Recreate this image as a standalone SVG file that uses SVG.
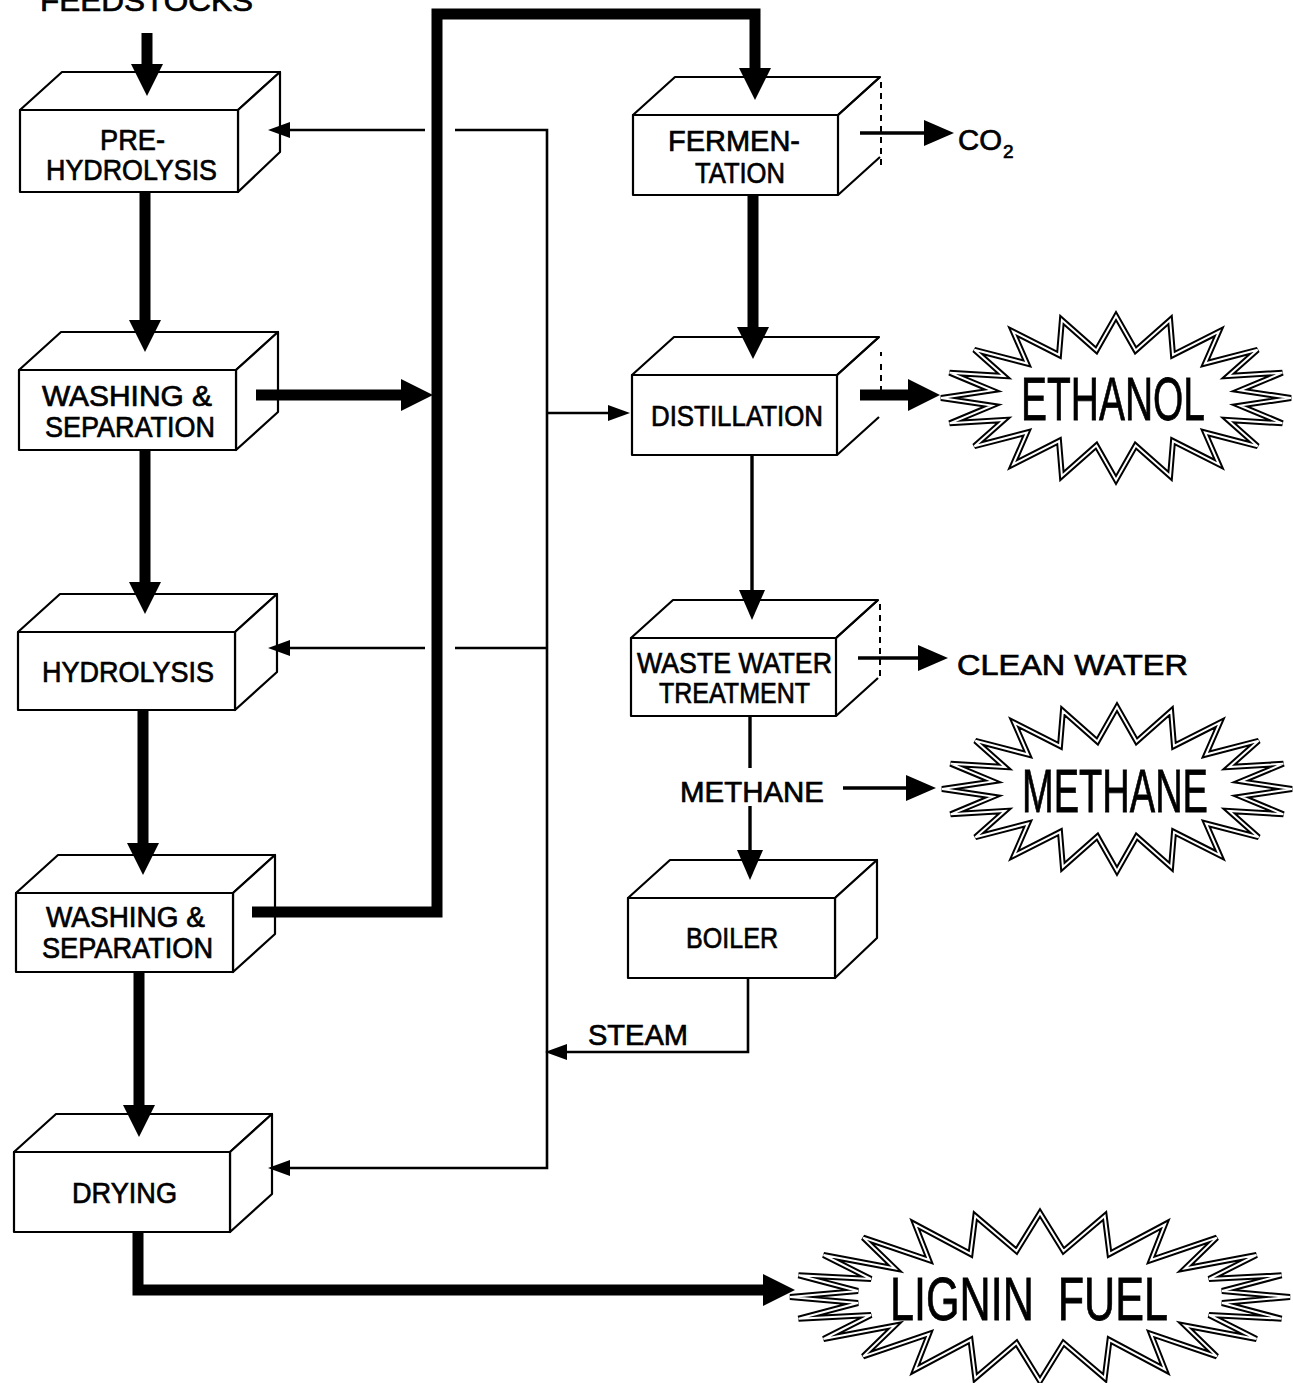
<svg xmlns="http://www.w3.org/2000/svg" width="1293" height="1383" viewBox="0 0 1293 1383">
<style>
.face{fill:#fff;stroke:#000;stroke-width:2.2;stroke-linejoin:round}
.dash{fill:none;stroke:#000;stroke-width:2;stroke-dasharray:6 5}
.lbl{font-family:"Liberation Sans",Arial,sans-serif;font-size:30px;fill:#000;stroke:#000;stroke-width:0.7}
.big{font-family:"Liberation Sans",Arial,sans-serif;font-size:62px;fill:#000;stroke:#000;stroke-width:0.8}
.thick{fill:none;stroke:#000;stroke-width:11;stroke-linejoin:miter}
.thin{fill:none;stroke:#000;stroke-width:2.6}
.mid{fill:none;stroke:#000;stroke-width:3.4}
.burst-o{fill:#fff;stroke:#000;stroke-width:6;stroke-linejoin:miter}
.burst-i{fill:none;stroke:#fff;stroke-width:2;stroke-linejoin:miter}
</style>
<defs>
<marker id="hb" viewBox="0 0 32 32" refX="0" refY="16" markerWidth="32" markerHeight="32" markerUnits="userSpaceOnUse" orient="auto"><path d="M0,0 L32,16 L0,32 z" fill="#000"/></marker>
<marker id="hm" viewBox="0 0 30 26" refX="0" refY="13" markerWidth="30" markerHeight="26" markerUnits="userSpaceOnUse" orient="auto"><path d="M0,0 L30,13 L0,26 z" fill="#000"/></marker>
<marker id="hs" viewBox="0 0 22 16" refX="0" refY="8" markerWidth="22" markerHeight="16" markerUnits="userSpaceOnUse" orient="auto"><path d="M0,0 L22,8 L0,16 z" fill="#000"/></marker>
<polygon id="burst1" points="175,0 124,7.6 166.4,25.3 112,22 141.6,48.2 89,34.5 102.9,66.3 57,43 54.1,78 19.6,47.5 0,82 -19.6,47.5 -54.1,78 -57,43 -102.9,66.3 -89,34.5 -141.6,48.2 -112,22 -166.4,25.3 -124,7.6 -175,0 -124,-7.6 -166.4,-25.3 -112,-22 -141.6,-48.2 -89,-34.5 -102.9,-66.3 -57,-43 -54.1,-78 -19.6,-47.5 0,-82 19.6,-47.5 54.1,-78 57,-43 102.9,-66.3 89,-34.5 141.6,-48.2 112,-22 166.4,-25.3 124,-7.6"/>
<polygon id="burst2" points="250,0 182,6 241.5,21.7 169,18 216.5,42 145,28.5 176.8,59.4 111,37 125,72.7 69.5,43 64.7,81.1 23.5,46 0,84 -23.5,46 -64.7,81.1 -69.5,43 -125,72.7 -111,37 -176.8,59.4 -145,28.5 -216.5,42 -169,18 -241.5,21.7 -182,6 -250,0 -182,-6 -241.5,-21.7 -169,-18 -216.5,-42 -145,-28.5 -176.8,-59.4 -111,-37 -125,-72.7 -69.5,-43 -64.7,-81.1 -23.5,-46 0,-84 23.5,-46 64.7,-81.1 69.5,-43 125,-72.7 111,-37 176.8,-59.4 145,-28.5 216.5,-42 169,-18 241.5,-21.7 182,-6"/>
</defs>
<rect width="1293" height="1383" fill="#fff"/>

<g id="feedstocks">
<text class="lbl" x="40" y="11" textLength="213" lengthAdjust="spacingAndGlyphs">FEEDSTOCKS</text>
</g>

<g id="pre-hydrolysis">
<polygon class="face" points="20,110 62,72 280,72 238,110"/>
<polygon class="face" points="238,110 280,72 280,152 238,192"/>
<rect class="face" x="20" y="110" width="218" height="82"/>
<text class="lbl" x="100" y="150" textLength="65" lengthAdjust="spacingAndGlyphs">PRE-</text>
<text class="lbl" x="46" y="180" textLength="171" lengthAdjust="spacingAndGlyphs">HYDROLYSIS</text>
</g>

<g id="washing-1">
<polygon class="face" points="19,370 61,332 278,332 236,370"/>
<polygon class="face" points="236,370 278,332 278,412 236,450"/>
<rect class="face" x="19" y="370" width="217" height="80"/>
<text class="lbl" x="42" y="406" textLength="170" lengthAdjust="spacingAndGlyphs">WASHING &amp;</text>
<text class="lbl" x="45" y="437" textLength="170" lengthAdjust="spacingAndGlyphs">SEPARATION</text>
</g>

<g id="hydrolysis">
<polygon class="face" points="18,632 60,594 277,594 235,632"/>
<polygon class="face" points="235,632 277,594 277,672 235,710"/>
<rect class="face" x="18" y="632" width="217" height="78"/>
<text class="lbl" x="42" y="682" textLength="172" lengthAdjust="spacingAndGlyphs">HYDROLYSIS</text>
</g>

<g id="washing-2">
<polygon class="face" points="16,893 58,855 275,855 233,893"/>
<polygon class="face" points="233,893 275,855 275,934 233,972"/>
<rect class="face" x="16" y="893" width="217" height="79"/>
<text class="lbl" x="46" y="927" textLength="159" lengthAdjust="spacingAndGlyphs">WASHING &amp;</text>
<text class="lbl" x="42" y="958" textLength="171" lengthAdjust="spacingAndGlyphs">SEPARATION</text>
</g>

<g id="drying">
<polygon class="face" points="14,1152 56,1114 272,1114 230,1152"/>
<polygon class="face" points="230,1152 272,1114 272,1194 230,1232"/>
<rect class="face" x="14" y="1152" width="216" height="80"/>
<text class="lbl" x="72" y="1203" textLength="105" lengthAdjust="spacingAndGlyphs">DRYING</text>
</g>

<g id="fermentation">
<polygon class="face" points="633,115 675,77 880,77 838,115"/>
<path class="face" d="M838,115 L880,77 M880,157 L838,195"/>
<path class="dash" d="M881,82 V165"/>
<rect class="face" x="633" y="115" width="205" height="80"/>
<text class="lbl" x="668" y="151" textLength="132" lengthAdjust="spacingAndGlyphs">FERMEN-</text>
<text class="lbl" x="695" y="183" textLength="90" lengthAdjust="spacingAndGlyphs">TATION</text>
</g>

<g id="co2">
<text class="lbl" x="958" y="150" textLength="44" lengthAdjust="spacingAndGlyphs">CO</text>
<text class="lbl" x="1003" y="158" style="font-size:19px">2</text>
</g>

<g id="distillation">
<polygon class="face" points="632,375 674,337 879,337 837,375"/>
<path class="face" d="M837,375 L879,337 M879,417 L837,455"/>
<path class="dash" d="M881,352 V356 M881,364 V392"/>
<rect class="face" x="632" y="375" width="205" height="80"/>
<text class="lbl" x="651" y="426" textLength="172" lengthAdjust="spacingAndGlyphs">DISTILLATION</text>
</g>

<g id="waste-water">
<polygon class="face" points="631,638 673,600 878,600 836,638"/>
<path class="face" d="M836,638 L878,600 M878,678 L836,716"/>
<path class="dash" d="M880,604 V680"/>
<rect class="face" x="631" y="638" width="205" height="78"/>
<text class="lbl" x="637" y="673" textLength="195" lengthAdjust="spacingAndGlyphs">WASTE WATER</text>
<text class="lbl" x="659" y="703" textLength="151" lengthAdjust="spacingAndGlyphs">TREATMENT</text>
</g>

<g id="clean-water">
<text class="lbl" x="957" y="675" textLength="231" lengthAdjust="spacingAndGlyphs">CLEAN WATER</text>
</g>

<g id="methane-label">
<text class="lbl" x="680" y="802" textLength="144" lengthAdjust="spacingAndGlyphs">METHANE</text>
</g>

<g id="boiler">
<polygon class="face" points="628,898 670,860 877,860 835,898"/>
<polygon class="face" points="835,898 877,860 877,938 835,978"/>
<rect class="face" x="628" y="898" width="207" height="80"/>
<text class="lbl" x="686" y="948" textLength="92" lengthAdjust="spacingAndGlyphs">BOILER</text>
</g>

<g id="steam-label">
<text class="lbl" x="588" y="1045" textLength="100" lengthAdjust="spacingAndGlyphs">STEAM</text>
</g>

<g id="ethanol">
<use href="#burst1" class="burst-o" transform="translate(1116,398)"/>
<use href="#burst1" class="burst-i" transform="translate(1116,398)"/>
<text class="big" x="1021" y="420" textLength="184" lengthAdjust="spacingAndGlyphs">ETHANOL</text>
</g>

<g id="methane">
<use href="#burst1" class="burst-o" transform="translate(1117,789)"/>
<use href="#burst1" class="burst-i" transform="translate(1117,789)"/>
<text class="big" x="1022" y="812" textLength="186" lengthAdjust="spacingAndGlyphs">METHANE</text>
</g>

<g id="lignin-fuel">
<use href="#burst2" class="burst-o" transform="translate(1040,1297)"/>
<use href="#burst2" class="burst-i" transform="translate(1040,1297)"/>
<text class="big" x="890" y="1320" textLength="278" lengthAdjust="spacingAndGlyphs" xml:space="preserve">LIGNIN  FUEL</text>
</g>

<g id="connectors">
<path class="thick" d="M147,33 V64" marker-end="url(#hb)"/>
<path class="thick" d="M145,192 V320" marker-end="url(#hb)"/>
<path class="thick" d="M145,450 V582" marker-end="url(#hb)"/>
<path class="thick" d="M143,710 V843" marker-end="url(#hb)"/>
<path class="thick" d="M139,972 V1105" marker-end="url(#hb)"/>
<path class="thick" d="M138,1232 V1290 H763" marker-end="url(#hb)"/>
<path class="thick" d="M256,395 H401" marker-end="url(#hb)"/>
<path class="thick" d="M252,912 H437 V14 H755 V68" marker-end="url(#hb)"/>
<path class="thick" d="M753,195 V327" marker-end="url(#hb)"/>
<path class="thick" d="M860,395 H908" marker-end="url(#hb)"/>
<path class="thin" d="M425,130 H290" marker-end="url(#hs)"/>
<path class="thin" d="M455,130 H547 V1168 H290" marker-end="url(#hs)"/>
<path class="thin" d="M425,648 H290" marker-end="url(#hs)"/>
<path class="thin" d="M455,648 H547"/>
<path class="thin" d="M547,413 H608" marker-end="url(#hs)"/>
<path class="thin" d="M748,978 V1052 H567" marker-end="url(#hs)"/>
<path class="mid" d="M752,455 V590" marker-end="url(#hm)"/>
<path class="mid" d="M750,716 V768"/>
<path class="mid" d="M750,806 V850" marker-end="url(#hm)"/>
<path class="mid" d="M860,133 H924" marker-end="url(#hm)"/>
<path class="mid" d="M858,658 H918" marker-end="url(#hm)"/>
<path class="mid" d="M843,788 H906" marker-end="url(#hm)"/>
</g>
</svg>
